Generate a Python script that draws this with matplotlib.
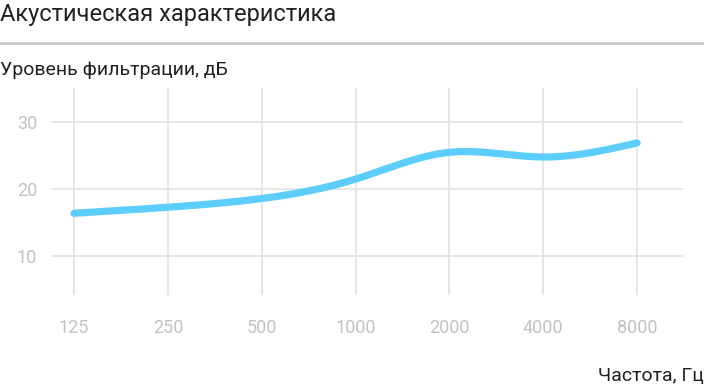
import numpy as np
import matplotlib
matplotlib.use("Agg")
from matplotlib import pyplot as plt

plt.rcParams['font.family'] = ['Roboto', 'DejaVu Sans']

# данные
freqs = ['125', '250', '500', '1000', '2000', '4000', '8000']
levels = [16.4, 17.3, 18.6, 21.5, 25.5, 24.8, 26.9]
y_ticks = [10, 20, 30]


def natural_spline(x, y, n=300):
    # натуральный кубический сплайн для сглаживания линии
    x = np.asarray(x, float)
    y = np.asarray(y, float)
    k = len(x)
    h = np.diff(x)
    A = np.zeros((k, k))
    b = np.zeros(k)
    A[0, 0] = A[-1, -1] = 1
    for i in range(1, k - 1):
        A[i, i - 1] = h[i - 1]
        A[i, i] = 2 * (h[i - 1] + h[i])
        A[i, i + 1] = h[i]
        b[i] = 3 * ((y[i + 1] - y[i]) / h[i] - (y[i] - y[i - 1]) / h[i - 1])
    c = np.linalg.solve(A, b)
    xs = np.linspace(x[0], x[-1], n)
    ys = np.empty_like(xs)
    for j, t in enumerate(xs):
        i = min(np.searchsorted(x, t, side='right') - 1, k - 2)
        dx = t - x[i]
        bb = (y[i + 1] - y[i]) / h[i] - h[i] * (2 * c[i] + c[i + 1]) / 3
        d = (c[i + 1] - c[i]) / (3 * h[i])
        ys[j] = y[i] + bb * dx + c[i] * dx ** 2 + d * dx ** 3
    return xs, ys


fig = plt.figure(figsize=(7.04, 3.9), dpi=100)
ax = fig.add_axes([51 / 704, 1 - 295 / 390, (683 - 51) / 704, (295 - 88) / 390])

idx = np.arange(len(freqs))
xs, ys = natural_spline(idx, levels)
ax.plot(xs, ys, color='#5ccdfd', lw=5.2, solid_capstyle='round', zorder=3)

ax.set_xlim(-0.245, 6.49)
ax.set_ylim(4.2, 35.1)
ax.set_xticks(idx)
ax.set_xticklabels(freqs)
ax.set_yticks(y_ticks)

ax.grid(True, color='#e2e2e2', lw=1.2)
ax.set_axisbelow(True)
for s in ax.spines.values():
    s.set_visible(False)
ax.tick_params(length=0, labelsize=13, colors='#c2c2c2', pad=10)
ax.tick_params(axis='x', pad=17)

fig.text(0.0, 1 - 15 / 390, 'Акустическая характеристика', fontsize=17,
         color='#222222', va='center', ha='left')
fig.add_artist(plt.Line2D([0, 1], [1 - 43 / 390] * 2, color='#c9c9c9', lw=2))
fig.text(0.0, 1 - 70 / 390, 'Уровень фильтрации, дБ', fontsize=14,
         color='#222222', va='center', ha='left')
fig.text(1.0, 1 - 376 / 390, 'Частота, Гц', fontsize=14,
         color='#222222', va='center', ha='right')

plt.savefig('out.png', dpi=100)
